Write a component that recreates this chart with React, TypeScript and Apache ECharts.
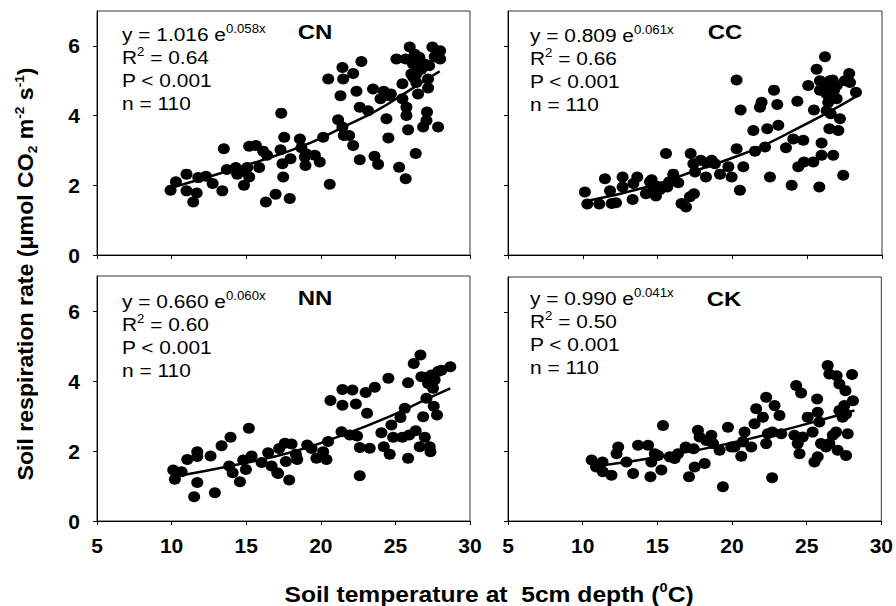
import React, { useEffect, useRef } from 'react';
import * as echarts from 'echarts';

const FONT = '"Liberation Sans", Arial, Helvetica, sans-serif';

const xTicks = [5, 10, 15, 20, 25, 30];
const yTicks = [0, 2, 4, 6];

const panelLabels = ['CN', 'CC', 'NN', 'CK'];
const eqCoef = ['1.016', '0.809', '0.660', '0.990'];
const eqExp = ['0.058x', '0.061x', '0.060x', '0.041x'];
const r2Values = ['0.64', '0.66', '0.60', '0.50'];
const pText = 'P < 0.001';
const nText = 'n = 110';

const cnPoints: [number, number][] = [
  [9.93, 1.86], [10.29, 2.10], [11.0, 2.32], [11.0, 1.84], [11.45, 1.52], [11.68, 1.78], [11.79, 2.22],
  [12.3, 2.26], [12.75, 2.05], [13.4, 1.84], [13.5, 3.05], [13.7, 2.45], [14.3, 2.51], [14.4, 2.32],
  [14.85, 2.0], [15.07, 2.51], [15.2, 2.24], [15.2, 3.12], [15.65, 3.14], [15.87, 2.51], [16.14, 2.98],
  [16.4, 2.86], [16.32, 1.52], [16.97, 1.74], [17.35, 4.07], [17.3, 3.02], [17.43, 2.62], [17.48, 2.24],
  [17.55, 3.38], [17.97, 2.76], [17.92, 1.62], [18.6, 3.33], [18.7, 3.08], [18.93, 2.81], [18.97, 2.57],
  [19.6, 2.86], [19.93, 2.67], [20.16, 3.38], [20.6, 2.03], [20.5, 5.05], [21.16, 3.88], [21.32, 4.57],
  [21.45, 5.38], [21.5, 5.05], [21.45, 3.67], [21.54, 3.43], [21.9, 3.43], [22.17, 5.21], [22.17, 3.14],
  [22.39, 4.70], [22.61, 2.73], [22.72, 5.55], [22.61, 4.24], [23.17, 4.14], [23.5, 4.76], [23.6, 2.83],
  [23.84, 2.60], [24.0, 4.48], [24.22, 4.70], [24.4, 3.91], [24.58, 4.57], [24.53, 3.36], [25.07, 5.62],
  [25.25, 2.52], [25.47, 4.91], [25.47, 4.48], [25.69, 5.62], [25.69, 2.19], [25.74, 4.24], [25.74, 4.0],
  [25.85, 3.59], [25.96, 5.97], [26.07, 5.19], [26.18, 5.48], [26.3, 5.76], [26.36, 2.91], [26.4, 4.95],
  [26.52, 4.62], [26.6, 5.67], [26.74, 5.33], [26.86, 3.67], [26.97, 5.48], [27.08, 3.86], [27.12, 4.10],
  [27.19, 5.05], [27.26, 5.43], [27.19, 4.79], [27.48, 5.97], [27.63, 5.69], [27.86, 3.67], [28.0, 5.86],
  [28.0, 5.62], [26.4, 5.19], [26.52, 5.40], [26.2, 5.10], [19.04, 2.9], [14.58, 2.38], [24.7, 4.62],
];
const cnFit: [number, number][] = [
  [10.16, 1.95], [15.92, 2.70], [19.26, 3.21], [21.5, 3.67], [23.73, 4.14], [25.96, 4.73], [27.97, 5.27],
];

const ccPoints: [number, number][] = [
  [10.14, 1.81], [10.3, 1.46], [11.1, 1.46], [11.48, 2.19], [11.82, 1.84], [11.93, 1.48], [12.22, 1.50],
  [12.66, 2.24], [12.66, 1.95], [13.33, 1.59], [13.38, 2.05], [13.64, 2.24], [14.22, 1.76], [14.6, 2.16],
  [14.71, 1.95], [14.98, 1.97], [14.89, 1.69], [15.56, 2.91], [15.65, 1.95], [16.05, 2.32], [16.38, 2.07],
  [16.6, 1.48], [16.9, 1.38], [17.43, 1.76], [17.21, 2.91], [17.39, 2.62], [17.5, 2.38], [17.88, 2.72],
  [18.23, 2.24], [18.61, 2.72], [18.83, 2.62], [19.17, 2.32], [19.73, 2.53], [19.95, 2.24], [20.28, 5.02],
  [20.28, 3.05], [20.5, 1.86], [20.55, 4.16], [20.73, 2.53], [21.4, 3.57], [21.51, 2.98], [21.84, 4.24],
  [21.95, 4.38], [22.18, 3.10], [22.33, 3.62], [22.51, 2.24], [22.78, 4.73], [23.0, 4.32], [23.07, 3.72],
  [23.58, 3.08], [23.96, 2.0], [24.07, 3.33], [24.34, 4.41], [24.4, 2.53], [24.74, 3.29], [24.78, 2.67],
  [25.07, 4.86], [25.41, 2.67], [25.45, 4.16], [25.63, 5.33], [25.81, 1.95], [25.85, 5.0], [25.96, 3.21],
  [25.96, 2.86], [26.19, 5.69], [26.3, 4.62], [26.34, 4.86], [26.41, 4.38], [26.48, 3.62], [26.57, 4.05],
  [26.7, 5.02], [26.74, 2.86], [26.79, 4.72], [26.97, 4.48], [27.08, 3.57], [27.19, 3.91], [27.41, 2.29],
  [27.52, 5.0], [27.81, 5.21], [27.86, 4.95], [28.26, 4.67], [26.3, 4.14], [26.97, 4.86], [26.52, 5.0],
  [25.85, 4.73], [18.28, 2.64], [14.49, 2.1], [15.16, 1.88], [15.78, 2.1], [17.16, 1.67],
];
const ccFit: [number, number][] = [
  [10.26, 1.55], [14.27, 1.95], [17.61, 2.43], [19.84, 2.76], [22.06, 3.14], [24.29, 3.62], [26.52, 4.12], [28.48, 4.60],
];

const nnPoints: [number, number][] = [
  [10.11, 1.46], [10.22, 1.19], [10.67, 1.41], [11.05, 1.76], [11.72, 1.10], [11.72, 1.98], [11.72, 1.84],
  [12.61, 1.86], [13.35, 2.15], [13.95, 2.39], [11.51, 0.69], [12.9, 0.81], [15.18, 2.65], [13.86, 1.57],
  [14.09, 1.38], [14.58, 1.12], [14.8, 1.74], [14.98, 1.47], [15.36, 1.86], [16.03, 1.67], [16.47, 1.95],
  [16.7, 1.57], [17.08, 1.38], [17.21, 2.07], [17.59, 2.22], [17.66, 1.70], [17.88, 1.17], [18.04, 2.20],
  [18.33, 1.91], [18.42, 1.76], [19.09, 2.17], [19.38, 2.07], [19.71, 1.79], [20.16, 1.98], [20.38, 1.76],
  [20.49, 2.27], [20.65, 3.44], [21.39, 2.55], [21.45, 3.76], [21.45, 3.31], [21.94, 2.46], [22.12, 3.74],
  [22.35, 3.34], [22.43, 2.43], [22.61, 1.29], [22.61, 2.10], [23.01, 3.67], [23.1, 3.08], [23.28, 2.08],
  [23.62, 3.82], [24.06, 2.52], [24.22, 2.12], [24.53, 4.08], [24.62, 1.91], [24.73, 2.74], [24.85, 2.39],
  [25.34, 2.96], [25.47, 2.39], [25.63, 3.22], [25.85, 1.79], [25.85, 3.95], [25.92, 2.46], [26.23, 4.50],
  [26.36, 2.58], [26.68, 4.74], [26.74, 4.12], [26.86, 2.98], [26.97, 2.39], [27.08, 3.51], [27.19, 3.93],
  [27.3, 2.12], [27.35, 1.98], [27.41, 4.17], [27.52, 3.79], [27.57, 3.28], [27.79, 3.03], [27.86, 4.27],
  [28.08, 4.31], [28.68, 4.41], [27.03, 4.10], [27.26, 4.0], [26.63, 2.12], [27.63, 4.03], [17.14, 1.36],
];
const nnFit: [number, number][] = [
  [10.67, 1.31], [13.68, 1.55], [18.15, 1.98], [21.5, 2.46], [24.85, 3.03], [27.08, 3.48], [28.68, 3.79],
];

const ckPoints: [number, number][] = [
  [11.35, 1.41], [11.33, 1.69], [11.93, 1.31], [12.27, 1.93], [12.38, 2.12], [12.93, 1.69], [13.38, 1.36],
  [13.71, 2.17], [14.38, 2.17], [14.54, 1.27], [14.6, 1.69], [14.83, 1.93], [15.05, 1.88], [15.27, 1.46],
  [15.38, 2.74], [15.83, 1.84], [16.16, 1.79], [16.38, 1.93], [16.9, 2.12], [17.12, 1.27], [17.5, 1.55],
  [17.43, 2.07], [17.72, 2.6], [17.83, 2.41], [18.17, 1.65], [18.28, 2.31], [18.62, 2.46], [18.73, 2.22],
  [19.17, 2.03], [19.39, 0.98], [19.73, 2.69], [19.95, 2.12], [20.17, 2.12], [20.62, 1.86], [20.73, 2.27],
  [20.84, 2.55], [21.29, 2.12], [21.51, 2.79], [21.62, 3.22], [22.07, 2.98], [22.29, 2.22], [22.4, 2.5],
  [22.69, 1.24], [22.7, 2.55], [22.85, 3.31], [23.18, 3.03], [23.3, 2.5], [24.18, 2.46], [24.4, 2.22],
  [24.52, 1.93], [24.74, 2.41], [25.07, 2.98], [25.4, 2.55], [25.52, 1.69], [25.74, 1.84], [25.74, 3.12],
  [25.85, 2.84], [25.96, 2.22], [26.3, 2.12], [26.52, 2.22], [26.75, 2.46], [26.97, 2.55], [27.08, 2.03],
  [27.19, 3.17], [27.41, 2.98], [27.52, 3.31], [27.64, 1.88], [27.75, 2.5], [27.64, 3.07], [26.41, 4.46],
  [26.52, 4.22], [27.01, 4.17], [27.19, 3.93], [27.6, 3.74], [28.04, 4.2], [24.3, 3.89], [24.63, 3.67],
  [22.29, 3.55], [25.7, 3.5], [28.1, 3.45], [10.6, 1.75], [10.9, 1.55],
];
const ckFit: [number, number][] = [
  [10.5, 1.55], [15.6, 1.87], [20.06, 2.25], [24.52, 2.73], [28.2, 3.17],
];

const panelPoints = [cnPoints, ccPoints, nnPoints, ckPoints];
const panelFits = [cnFit, ccFit, nnFit, ckFit];

// layout (pixels)
const gridBoxes = [
  { left: 97, top: 11, width: 373, height: 244 },
  { left: 508, top: 11, width: 374, height: 244 },
  { left: 97, top: 276, width: 373, height: 245 },
  { left: 508, top: 277, width: 374, height: 244 },
];
const annotPos = [
  { x: 122, y: 23 },
  { x: 530, y: 24 },
  { x: 122, y: 290 },
  { x: 530, y: 287 },
];
const labelPos = [
  { x: 315, y: 32 },
  { x: 725, y: 32 },
  { x: 315, y: 298 },
  { x: 724, y: 299 },
];

function buildOption(): any {
  const grid = gridBoxes.map((g) => ({
    ...g,
    show: true,
    borderColor: '#333',
    borderWidth: 1,
    backgroundColor: 'transparent',
    containLabel: false,
  }));
  const xAxis = gridBoxes.map((_, i) => ({
    gridIndex: i,
    type: 'value',
    min: 5,
    max: 30,
    interval: 5,
    axisLine: { show: true, onZero: false, lineStyle: { color: '#000', width: 1 } },
    axisTick: { show: true, inside: false, length: 4, customValues: xTicks, lineStyle: { color: '#000' } },
    axisLabel: {
      show: i >= 2,
      customValues: xTicks,
      fontSize: 21,
      fontWeight: 'bold',
      color: '#000',
      fontFamily: FONT,
      margin: 14,
    },
    splitLine: { show: false },
  }));
  const yAxis = gridBoxes.map((_, i) => ({
    gridIndex: i,
    type: 'value',
    min: 0,
    max: 7,
    axisLine: { show: true, onZero: false, lineStyle: { color: '#000', width: 1 } },
    axisTick: { show: true, inside: false, length: 4, customValues: yTicks, lineStyle: { color: '#000' } },
    axisLabel: {
      show: i % 2 === 0,
      customValues: yTicks,
      fontSize: 21,
      fontWeight: 'bold',
      color: '#000',
      fontFamily: FONT,
      margin: 17,
    },
    splitLine: { show: false },
  }));
  const series: any[] = [];
  panelPoints.forEach((pts, i) => {
    series.push({
      type: 'scatter',
      xAxisIndex: i,
      yAxisIndex: i,
      data: pts,
      symbol: 'circle',
      symbolSize: [12, 11],
      itemStyle: { color: '#000', opacity: 1 },
      silent: true,
      z: 2,
    });
    series.push({
      type: 'line',
      xAxisIndex: i,
      yAxisIndex: i,
      data: panelFits[i],
      smooth: true,
      symbol: 'none',
      showSymbol: false,
      lineStyle: { color: '#000', width: 2.5 },
      silent: true,
      z: 3,
    });
  });

  const annRich = {
    m: { fontSize: 19, lineHeight: 23, fontFamily: FONT, fill: '#000' },
    sup: { fontSize: 12, lineHeight: 8, verticalAlign: 'top', fontFamily: FONT, fill: '#000' },
  };
  const graphic: any[] = [];
  panelLabels.forEach((lab, i) => {
    const txt =
      `{m|y = ${eqCoef[i]} e}{sup|${eqExp[i]}}\n` +
      `{m|R}{sup|2}{m| = ${r2Values[i]}}\n` +
      `{m|${pText}}\n` +
      `{m|${nText}}`;
    graphic.push({
      type: 'text',
      x: annotPos[i].x,
      y: annotPos[i].y,
      scaleX: 1.1,
      silent: true,
      style: { text: txt, rich: annRich, align: 'left', verticalAlign: 'top', fill: '#000' },
    });
    graphic.push({
      type: 'text',
      x: labelPos[i].x,
      y: labelPos[i].y,
      scaleX: 1.2,
      silent: true,
      style: {
        text: lab,
        fontSize: 20,
        fontWeight: 'bold',
        fontFamily: FONT,
        fill: '#000',
        align: 'center',
        verticalAlign: 'middle',
      },
    });
  });

  const titleRich = {
    b: { fontSize: 22, fontWeight: 'bold', lineHeight: 26, fontFamily: FONT, fill: '#000' },
    sup: { fontSize: 13, fontWeight: 'bold', lineHeight: 9, verticalAlign: 'top', fontFamily: FONT, fill: '#000' },
    sub: { fontSize: 13, fontWeight: 'bold', lineHeight: 10, verticalAlign: 'bottom', fontFamily: FONT, fill: '#000' },
  };
  graphic.push({
    type: 'text',
    x: 489,
    y: 594,
    scaleX: 1.12,
    silent: true,
    style: {
      text: '{b|Soil temperature at  5cm depth (}{sup|0}{b|C)}',
      rich: titleRich,
      align: 'center',
      verticalAlign: 'middle',
    },
  });
  graphic.push({
    type: 'text',
    x: 26,
    y: 274,
    rotation: Math.PI / 2,
    scaleX: 1.05,
    silent: true,
    style: {
      text: '{b|Soil respiration rate (\u03bcmol CO}{sub|2}{b| m}{sup|-2}{b| s}{sup|-1}{b|)}',
      rich: titleRich,
      align: 'center',
      verticalAlign: 'middle',
    },
  });

  return {
    animation: false,
    backgroundColor: '#fff',
    grid,
    xAxis,
    yAxis,
    series,
    graphic,
  };
}

export default function App() {
  const ref = useRef<HTMLDivElement>(null);
  useEffect(() => {
    if (!ref.current) return;
    const chart = echarts.init(ref.current, undefined, { renderer: 'svg' });
    chart.setOption(buildOption());
    return () => {
      chart.dispose();
    };
  }, []);
  return (
    <div
      ref={ref}
      style={{ position: 'absolute', left: 0, top: 0, width: '896px', height: '606px', background: '#fff' }}
    />
  );
}
